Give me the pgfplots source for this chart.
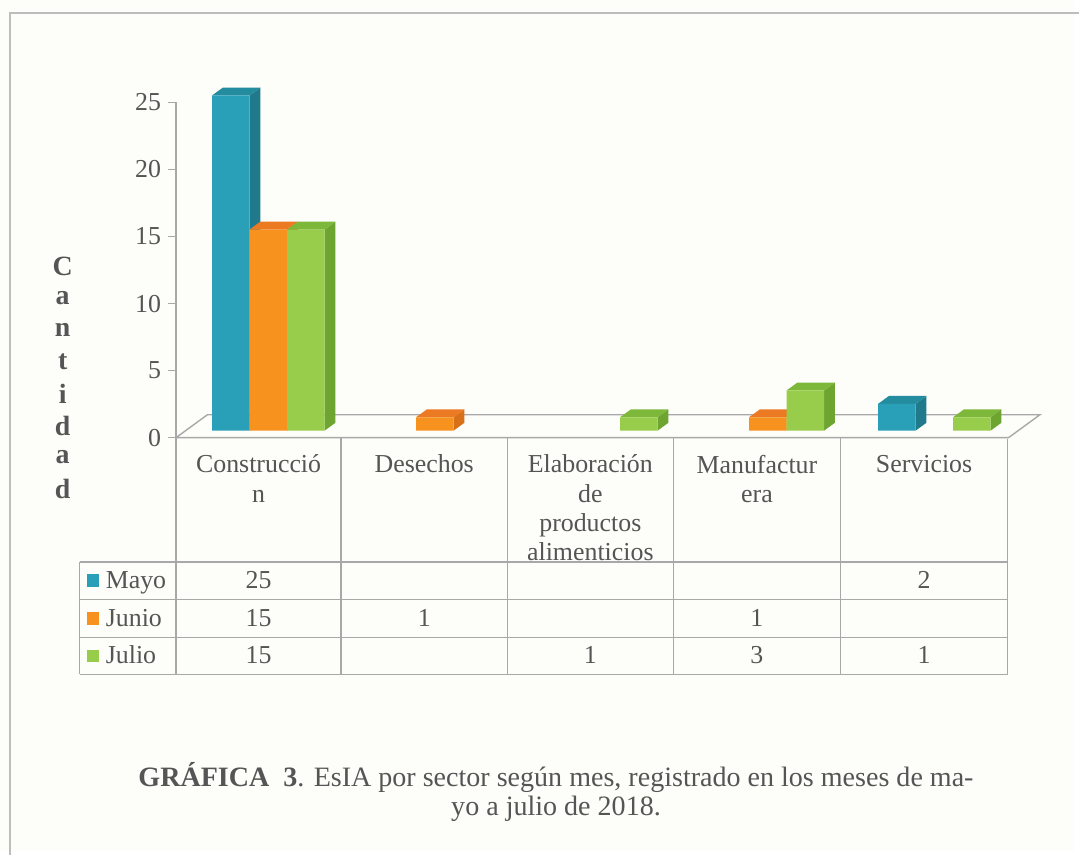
\documentclass[border=0pt]{standalone}
\usepackage{pgfplots}
\pgfplotsset{compat=1.18}
\usepackage{fontspec}
\setmainfont{Liberation Serif}
\definecolor{pagebg}{HTML}{FDFDFA}
\definecolor{framegray}{HTML}{BDBDBD}
\definecolor{linegray}{HTML}{A8A8A8}
\definecolor{txt}{HTML}{555555}
\definecolor{tealF}{HTML}{2AA0B8}
\definecolor{tealS}{HTML}{217A8C}
\definecolor{tealT}{HTML}{248C9F}
\definecolor{orF}{HTML}{F8921F}
\definecolor{orS}{HTML}{D8701A}
\definecolor{orT}{HTML}{EC7A22}
\definecolor{grF}{HTML}{97CD4A}
\definecolor{grS}{HTML}{6EA530}
\definecolor{grT}{HTML}{7DB83A}
\newcommand{\fs}{\fontsize{13}{14.7}\selectfont}
\newcommand{\fc}{\fontsize{14.1}{15}\selectfont}
\begin{document}
\begin{tikzpicture}
\fill[pagebg] (0,0) rectangle (540pt,428pt);
\begin{scope}[x=0.5pt,y=-0.5pt,shift={(0,428pt)}]
  % page frame (scan)
  \draw[framegray,line width=0.8pt] (10,860)--(10,13)--(1085,13);
  % data table grid
  \draw[linegray,line width=0.7pt]
    (177,440)--(177,678) (343,440)--(343,678) (510,440)--(510,678)
    (677,440)--(677,678) (845,440)--(845,678) (1013,441)--(1013,678)
    (80,565)--(1013,565) (80,603)--(1013,603) (80,641)--(1013,641)
    (80,678)--(1013,678) (80,565)--(80,678);
  % category labels
  \begin{scope}[every node/.style={anchor=north,inner sep=0pt,text width=80pt,align=center,font=\fs,text=txt}]
    \node at (260,457) {Construcció\\n};
    \node at (426.5,457) {Desechos};
    \node at (593.5,457) {Elaboración\\de\\productos\\alimenticios};
    \node at (761,457) {Manufactur\\era};
    \node at (929,457) {Servicios};
  \end{scope}
  % legend keys
  \fill[tealF] (87,577) rectangle (100,590);
  \fill[orF] (87,615) rectangle (100,628);
  \fill[grF] (87,653) rectangle (100,666);
  \begin{scope}[every node/.style={inner sep=0pt,font=\fs,text=txt,anchor=base}]
    \node[anchor=base west] at (106,592) {Mayo};
    \node[anchor=base west] at (106,630) {Junio};
    \node[anchor=base west] at (106,667) {Julio};
    \node at (260,592) {25};
    \node at (929,592) {2};
    \node at (260,630) {15};
    \node at (426.5,630) {1};
    \node at (761,630) {1};
    \node at (260,667) {15};
    \node at (593.5,667) {1};
    \node at (761,667) {3};
    \node at (929,667) {1};
  \end{scope}
  % y label
  \foreach \l [count=\k from 0] in {C,a,n,t,i,d,a,d}
    \node[font=\fontsize{14}{15}\selectfont\bfseries,text=txt,inner sep=0pt] at (63,{268+32*\k}) {\l};
  % caption
  \node[font=\fc,text=txt,inner sep=0pt] at (559,782) {\textbf{GRÁFICA\ \ 3}. EsIA por sector según mes, registrado en los meses de ma-};
  \node[font=\fc,text=txt,inner sep=0pt] at (559,813) {yo a julio de 2018.};
\end{scope}

% axis with value scale and floor
\begin{axis}[
  at={(88.5pt,208pt)}, anchor=south west,
  scale only axis, width=418.5pt, height=168.5pt,
  xmin=0, xmax=5, ymin=0, ymax=25, enlargelimits=false,
  clip=false,
  axis x line=none, axis y line*=left,
  y axis line style={linegray,line width=0.7pt,-},
  ytick={0,5,...,25}, tick align=outside, major tick length=4pt,
  tick style={linegray,line width=0.7pt},
  yticklabel style={font=\fs,text=txt},
  /pgf/number format/assume math mode=true,
]
  \draw[linegray,line width=0.7pt] (axis cs:0,0)--(axis cs:5,0)
    (axis cs:0,0)--(axis cs:0.188,1.706)--(axis cs:5.188,1.706)--(axis cs:5,0);
\end{axis}

% bars
\begin{axis}[
  at={(93pt,211.5pt)}, anchor=south west,
  scale only axis, width=418.5pt, height=168.5pt,
  xmin=0, xmax=5, ymin=0, ymax=25, enlargelimits=false,
  clip=false, hide axis,
]
  % depth faces (side, top), left to right
  \addplot[fill=tealS,draw=none] coordinates {(0.3874,0)(0.4531,0.593)(0.4531,25.593)(0.3874,25)};
  \addplot[fill=tealT,draw=none] coordinates {(0.1622,25)(0.3874,25)(0.4531,25.593)(0.2279,25.593)};
  \addplot[fill=orS,draw=none] coordinates {(0.6126,0)(0.6783,0.593)(0.6783,15.593)(0.6126,15)};
  \addplot[fill=orT,draw=none] coordinates {(0.3874,15)(0.6126,15)(0.6783,15.593)(0.4531,15.593)};
  \addplot[fill=grS,draw=none] coordinates {(0.8378,0)(0.9035,0.593)(0.9035,15.593)(0.8378,15)};
  \addplot[fill=grT,draw=none] coordinates {(0.6126,15)(0.8378,15)(0.9035,15.593)(0.6783,15.593)};
  \addplot[fill=orS,draw=none] coordinates {(1.6126,0)(1.6783,0.593)(1.6783,1.593)(1.6126,1)};
  \addplot[fill=orT,draw=none] coordinates {(1.3874,1)(1.6126,1)(1.6783,1.593)(1.4531,1.593)};
  \addplot[fill=grS,draw=none] coordinates {(2.8378,0)(2.9035,0.593)(2.9035,1.593)(2.8378,1)};
  \addplot[fill=grT,draw=none] coordinates {(2.6126,1)(2.8378,1)(2.9035,1.593)(2.6783,1.593)};
  \addplot[fill=orS,draw=none] coordinates {(3.6126,0)(3.6783,0.593)(3.6783,1.593)(3.6126,1)};
  \addplot[fill=orT,draw=none] coordinates {(3.3874,1)(3.6126,1)(3.6783,1.593)(3.4531,1.593)};
  \addplot[fill=grS,draw=none] coordinates {(3.8378,0)(3.9035,0.593)(3.9035,3.593)(3.8378,3)};
  \addplot[fill=grT,draw=none] coordinates {(3.6126,3)(3.8378,3)(3.9035,3.593)(3.6783,3.593)};
  \addplot[fill=tealS,draw=none] coordinates {(4.3874,0)(4.4531,0.593)(4.4531,2.593)(4.3874,2)};
  \addplot[fill=tealT,draw=none] coordinates {(4.1622,2)(4.3874,2)(4.4531,2.593)(4.2279,2.593)};
  \addplot[fill=grS,draw=none] coordinates {(4.8378,0)(4.9035,0.593)(4.9035,1.593)(4.8378,1)};
  \addplot[fill=grT,draw=none] coordinates {(4.6126,1)(4.8378,1)(4.9035,1.593)(4.6783,1.593)};
  % front faces
  \addplot[ybar,bar width=18.85pt,bar shift=-18.85pt,fill=tealF,draw=none] coordinates {(0.5,25)(4.5,2)};
  \addplot[ybar,bar width=18.85pt,bar shift=0pt,fill=orF,draw=none] coordinates {(0.5,15)(1.5,1)(3.5,1)};
  \addplot[ybar,bar width=18.85pt,bar shift=18.85pt,fill=grF,draw=none] coordinates {(0.5,15)(2.5,1)(3.5,3)(4.5,1)};
\end{axis}
\end{tikzpicture}
\end{document}
